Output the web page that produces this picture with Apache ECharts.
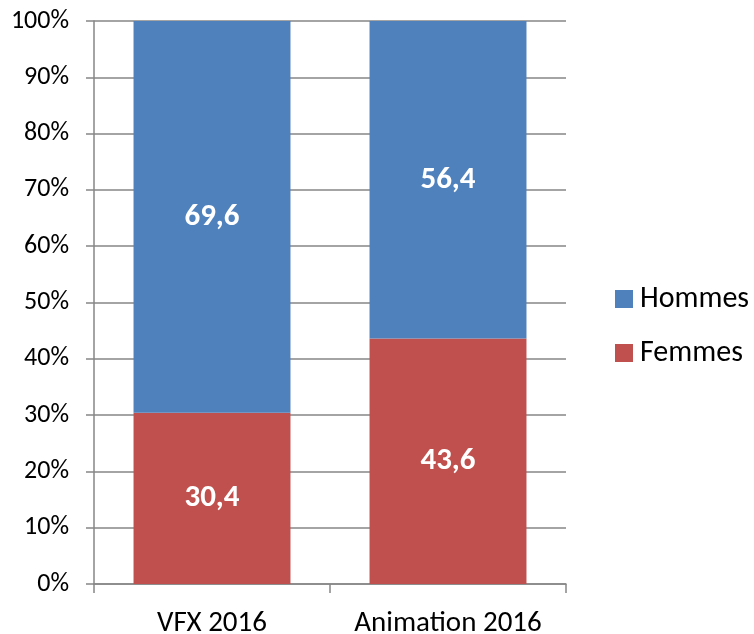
<!DOCTYPE html>
<html>
<head>
<meta charset="utf-8">
<script src="https://cdn.jsdelivr.net/npm/echarts@6/dist/echarts.min.js"></script>
<style>html,body{margin:0;padding:0;background:#fff}#c{width:754px;height:634px}</style>
</head>
<body>
<div id="c"></div>
<script>
const categories = ['VFX 2016', 'Animation 2016'];
const femmes = [30.4, 43.6];
const hommes = [69.6, 56.4];
const yTicks = [0, 10, 20, 30, 40, 50, 60, 70, 80, 90, 100];

const font = 'Carlito, "Open Sans", "Liberation Sans", sans-serif';
const chart = echarts.init(document.getElementById('c'));
const fmt = v => String(v).replace('.', ',');
chart.setOption({
  animation: false,
  textStyle: { fontFamily: font },
  grid: { left: 94, right: 188, top: 21, bottom: 50, containLabel: false, outerBoundsMode: 'none' },
  legend: {
    orient: 'vertical', left: 610, top: 279,
    data: ['Hommes', 'Femmes'],
    itemWidth: 18, itemHeight: 18, itemGap: 24,
    icon: 'rect',
    textStyle: { fontSize: 30, lineHeight: 30, color: '#000', fontFamily: font, padding: [0, 0, 0, 2] }
  },
  xAxis: {
    type: 'category', data: categories,
    axisLine: { lineStyle: { color: '#868686', width: 1.5 } },
    axisTick: { show: true, length: 9, lineStyle: { color: '#868686', width: 1.5 } },
    axisLabel: { interval: 0, hideOverlap: false, fontSize: 29, lineHeight: 29, color: '#000', margin: 25, fontFamily: font }
  },
  yAxis: {
    type: 'value', min: yTicks[0], max: yTicks[yTicks.length - 1], interval: 10,
    axisLine: { show: true, lineStyle: { color: '#868686', width: 1.5 } },
    axisTick: { show: true, length: 8, lineStyle: { color: '#868686', width: 1.5 } },
    splitLine: { lineStyle: { color: '#868686', width: 1.5 } },
    axisLabel: { formatter: '{value}%', fontSize: 26, color: '#000', margin: 25, fontFamily: font }
  },
  series: [
    {
      name: 'Femmes', type: 'bar', stack: 'a', data: femmes, barWidth: '66.5%',
      itemStyle: { color: '#C0504D' },
      label: { show: true, position: 'inside', color: '#fff', fontWeight: 'bold', fontSize: 31, fontFamily: font, formatter: p => fmt(p.value) }
    },
    {
      name: 'Hommes', type: 'bar', stack: 'a', data: hommes, barWidth: '66.5%',
      itemStyle: { color: '#4F81BD' },
      label: { show: true, position: 'inside', color: '#fff', fontWeight: 'bold', fontSize: 31, fontFamily: font, formatter: p => fmt(p.value) }
    }
  ]
});
</script>
</body>
</html>
